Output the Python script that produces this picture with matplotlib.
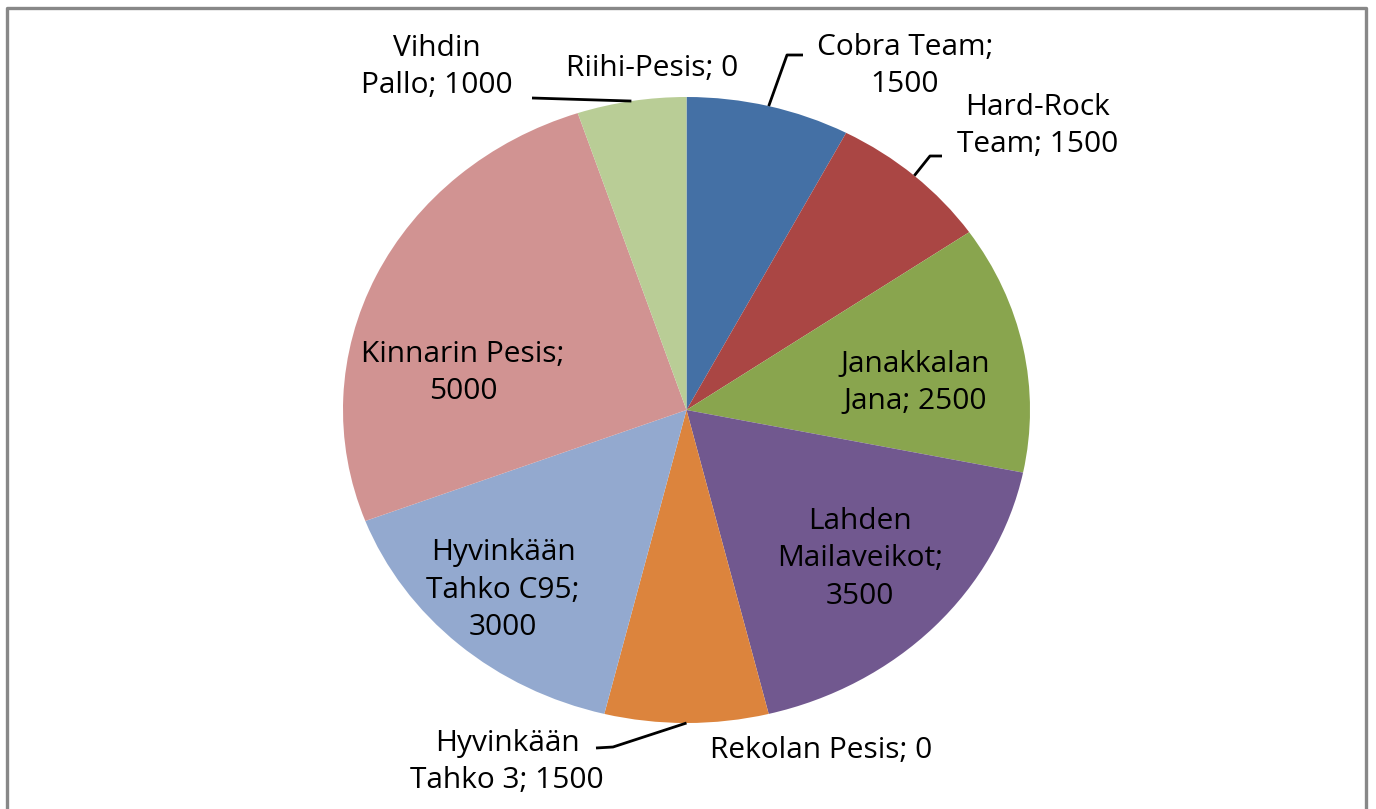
import numpy as np
import matplotlib
matplotlib.use("Agg")
import matplotlib.pyplot as plt
from matplotlib.lines import Line2D

teams = ["Cobra Team", "Hard-Rock Team", "Janakkalan Jana", "Lahden Mailaveikot",
         "Rekolan Pesis", "Hyvinkään Tahko 3", "Hyvinkään Tahko C95",
         "Kinnarin Pesis", "Vihdin Pallo", "Riihi-Pesis"]
amounts = [1500, 1500, 2500, 3500, 0, 1500, 3000, 5000, 1000, 0]
label_text = ["Cobra Team;\n1500", "Hard-Rock\nTeam; 1500", "Janakkalan\nJana; 2500",
              "Lahden\nMailaveikot;\n3500", "Rekolan Pesis; 0", "Hyvinkään\nTahko 3; 1500",
              "Hyvinkään\nTahko C95;\n3000", "Kinnarin Pesis;\n5000", "Vihdin\nPallo; 1000",
              "Riihi-Pesis; 0"]
colors = ["#4470A5", "#AA4644", "#89A54E", "#71588F", "#4198AF", "#DC843D",
          "#93A9CF", "#D19392", "#B9CD96", "#A99BBD"]

W, H = 1376, 809
CX, CY, RX, RY = 686.5, 410, 343.5, 313

# label centres in pixels, and leader knee/end points (None = label inside slice)
label_pos = [(905, 66), (1038, 126), (915, 383), (860, 559), (821, 750),
             (507, 762), (503, 590), (463, 373), (437, 67), (652, 68)]
leaders = [[(787, 55), (803, 55)], [(930, 156), (942, 156)], None, None, None,
           [(613, 747), (596, 748)], None, None, [(532, 98)], None]


def to_data(px, py):
    return (px - CX) / RX, (CY - py) / RY


fig = plt.figure(figsize=(W / 100, H / 100), dpi=100)
ax = fig.add_axes([(CX - RX) / W, (H - CY - RY) / H, 2 * RX / W, 2 * RY / H])
wedges, _ = ax.pie(amounts, colors=colors, startangle=90, counterclock=False,
                   wedgeprops=dict(linewidth=0))
ax.set_aspect("auto")
ax.set_xlim(-1, 1)
ax.set_ylim(-1, 1)

for i, w in enumerate(wedges):
    tx, ty = to_data(*label_pos[i])
    ax.text(tx, ty, label_text[i], ha="center", va="center", fontsize=21.5,
            family="Open Sans", color="black", linespacing=1.4)
    if leaders[i] is not None:
        mid = np.deg2rad((w.theta1 + w.theta2) / 2)
        pts = [(np.cos(mid), np.sin(mid))] + [to_data(*p) for p in leaders[i]]
        xs, ys = zip(*pts)
        ax.plot(xs, ys, color="black", lw=2, solid_capstyle="butt", clip_on=False)

# chart border, open at the bottom
fig.add_artist(Line2D([7 / W, 7 / W, 1366 / W, 1366 / W],
                      [0, 1 - 8 / H, 1 - 8 / H, 0],
                      transform=fig.transFigure, color="#888888", lw=2.4))

fig.savefig("out.png", dpi=100)
